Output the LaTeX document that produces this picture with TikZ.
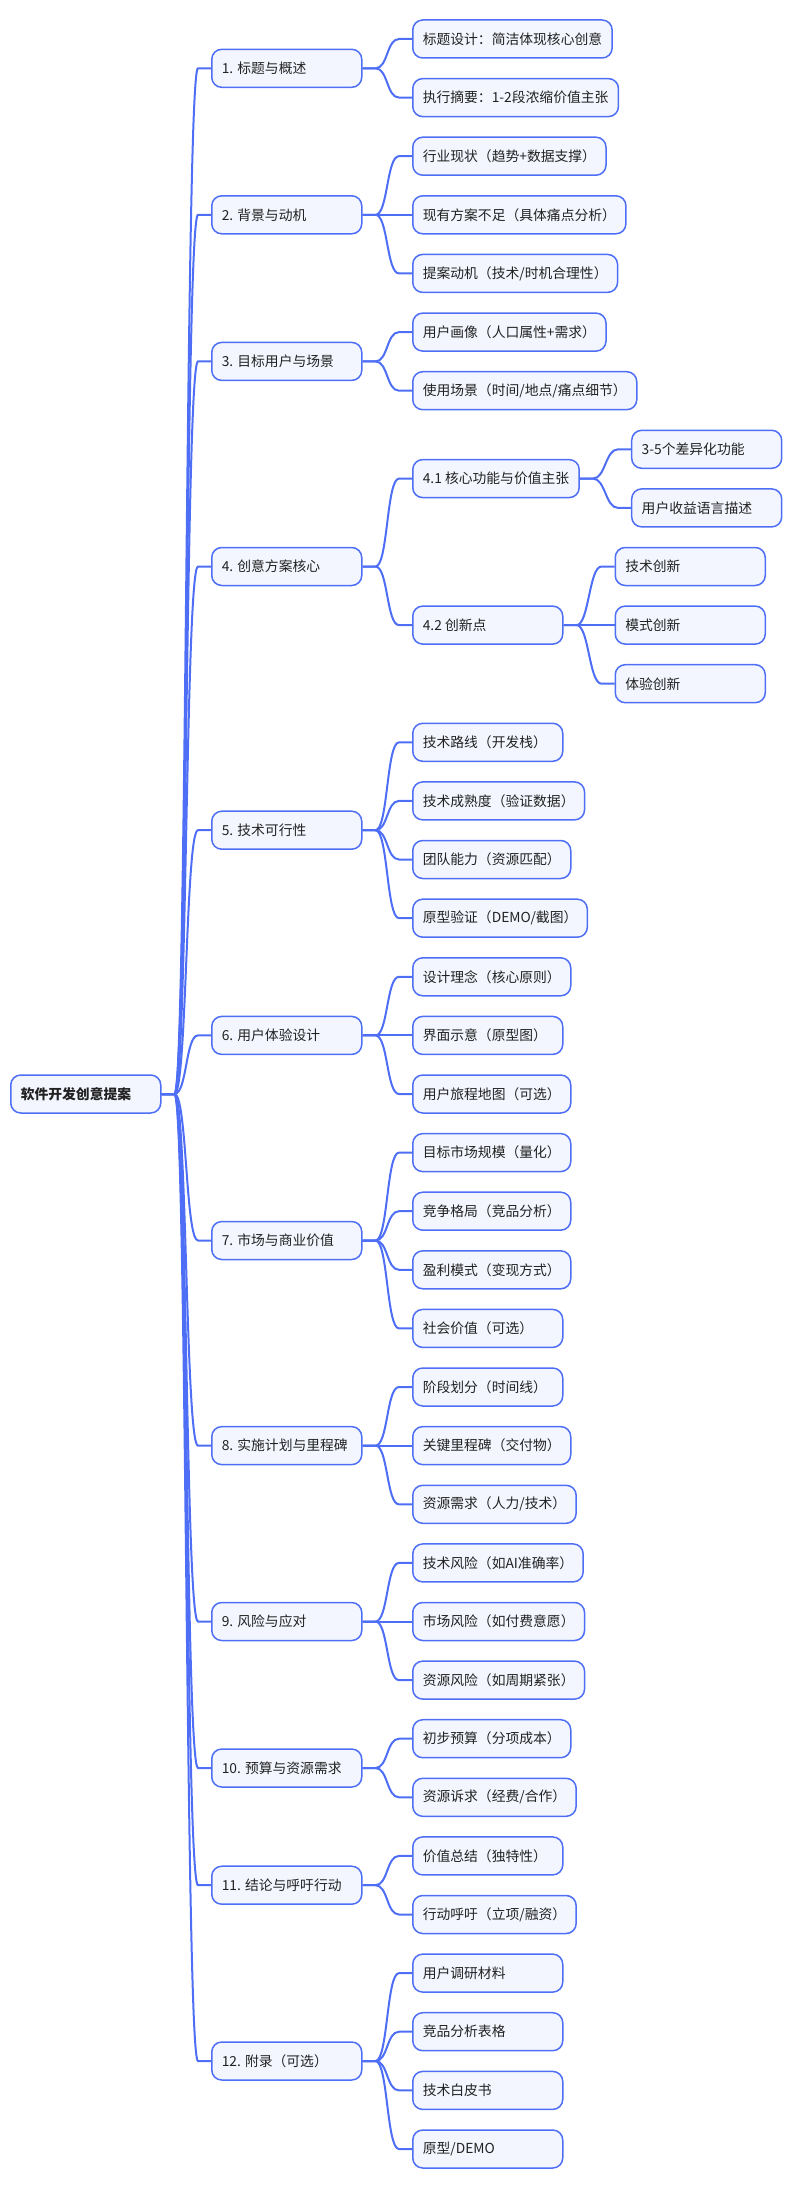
\documentclass[tikz,border=0pt]{standalone}
\usepackage{fontspec}
\setmainfont{Noto Sans CJK SC}
\usetikzlibrary{calc}
\definecolor{lineblue}{RGB}{78,110,245}
\definecolor{boxfill}{RGB}{243,246,254}
\definecolor{txt}{RGB}{34,34,34}
\newcommand\lbl[1]{\setbox0\hbox{#1}\ifdim\wd0<130pt\hbox to 130pt{\unhcopy0\hfil}\else\box0\fi}
\pgfdeclarelayer{bg}
\pgfsetlayers{bg,main}
\newcommand\conn[2]{\begin{pgfonlayer}{bg}\draw[link] (#1.east) -- ++(13,0) .. controls ($(#1.east)+(25.5pt,0)$) and ($(#2.west)+(-25.5pt,0)$) .. ($(#2.west)+(-13pt,0)$) -- (#2.west);\end{pgfonlayer}}
\tikzset{
  mm/.style={draw=lineblue, line width=1.5pt, fill=boxfill, rounded corners=10pt,
    minimum height=38pt, inner xsep=10pt, inner ysep=0pt, anchor=west, text=txt,
    font=\fontsize{13.8}{17}\selectfont},
  rootbox/.style={mm, font=\fontsize{13.8}{17}\selectfont\bfseries},
  link/.style={draw=lineblue, line width=2pt}
}
\begin{document}
\begin{tikzpicture}[x=1pt,y=-1pt]
\useasboundingbox (0,0) rectangle (790,2189);
% root
\node[rootbox] (root) at (10,1094) {\lbl{软件开发创意提案}};
% level 1
\node[mm] (n1) at (211,68.3) {\lbl{1. 标题与概述}};
\node[mm] (n2) at (211,214.8) {\lbl{2. 背景与动机}};
\node[mm] (n3) at (211,361.4) {\lbl{3. 目标用户与场景}};
\node[mm] (n4) at (211,566.5) {\lbl{4. 创意方案核心}};
\node[mm] (n5) at (211,830.2) {\lbl{5. 技术可行性}};
\node[mm] (n6) at (211,1035.4) {\lbl{6. 用户体验设计}};
\node[mm] (n7) at (211,1240.5) {\lbl{7. 市场与商业价值}};
\node[mm] (n8) at (211,1445.6) {\lbl{8. 实施计划与里程碑}};
\node[mm] (n9) at (211,1621.5) {\lbl{9. 风险与应对}};
\node[mm] (n10) at (211,1768.0) {\lbl{10. 预算与资源需求}};
\node[mm] (n11) at (211,1885.2) {\lbl{11. 结论与呼吁行动}};
\node[mm] (n12) at (211,2061.0) {\lbl{12. 附录（可选）}};
% level 2
\node[mm] (a1) at (412,39.0) {\lbl{标题设计：简洁体现核心创意}};
\node[mm] (a2) at (412,97.6) {\lbl{执行摘要：1-2段浓缩价值主张}};
\node[mm] (b1) at (412,156.2) {\lbl{行业现状（趋势+数据支撑）}};
\node[mm] (b2) at (412,214.8) {\lbl{现有方案不足（具体痛点分析）}};
\node[mm] (b3) at (412,273.4) {\lbl{提案动机（技术/时机合理性）}};
\node[mm] (c1) at (412,332.1) {\lbl{用户画像（人口属性+需求）}};
\node[mm] (c2) at (412,390.7) {\lbl{使用场景（时间/地点/痛点细节）}};
\node[mm] (n41) at (412,478.6) {\lbl{4.1 核心功能与价值主张}};
\node[mm] (n42) at (412,625.1) {\lbl{4.2 创新点}};
\node[mm] (f1) at (412,742.3) {\lbl{技术路线（开发栈）}};
\node[mm] (f2) at (412,800.9) {\lbl{技术成熟度（验证数据）}};
\node[mm] (f3) at (412,859.5) {\lbl{团队能力（资源匹配）}};
\node[mm] (f4) at (412,918.2) {\lbl{原型验证（DEMO/截图）}};
\node[mm] (g1) at (412,976.8) {\lbl{设计理念（核心原则）}};
\node[mm] (g2) at (412,1035.4) {\lbl{界面示意（原型图）}};
\node[mm] (g3) at (412,1094.0) {\lbl{用户旅程地图（可选）}};
\node[mm] (h1) at (412,1152.6) {\lbl{目标市场规模（量化）}};
\node[mm] (h2) at (412,1211.2) {\lbl{竞争格局（竞品分析）}};
\node[mm] (h3) at (412,1269.8) {\lbl{盈利模式（变现方式）}};
\node[mm] (h4) at (412,1328.4) {\lbl{社会价值（可选）}};
\node[mm] (i1) at (412,1387.0) {\lbl{阶段划分（时间线）}};
\node[mm] (i2) at (412,1445.6) {\lbl{关键里程碑（交付物）}};
\node[mm] (i3) at (412,1504.3) {\lbl{资源需求（人力/技术）}};
\node[mm] (j1) at (412,1562.9) {\lbl{技术风险（如AI准确率）}};
\node[mm] (j2) at (412,1621.5) {\lbl{市场风险（如付费意愿）}};
\node[mm] (j3) at (412,1680.1) {\lbl{资源风险（如周期紧张）}};
\node[mm] (k1) at (412,1738.7) {\lbl{初步预算（分项成本）}};
\node[mm] (k2) at (412,1797.3) {\lbl{资源诉求（经费/合作）}};
\node[mm] (l1) at (412,1855.9) {\lbl{价值总结（独特性）}};
\node[mm] (l2) at (412,1914.5) {\lbl{行动呼吁（立项/融资）}};
\node[mm] (m1) at (412,1973.1) {\lbl{用户调研材料}};
\node[mm] (m2) at (412,2031.7) {\lbl{竞品分析表格}};
\node[mm] (m3) at (412,2090.4) {\lbl{技术白皮书}};
\node[mm] (m4) at (412,2149.0) {\lbl{原型/DEMO}};
% level 3
\path (n41.east) ++(51,0) coordinate (c41);
\path (n42.east) ++(51,0) coordinate (c42);
\node[mm] (d1) at (c41 |- 0,449.3) {\lbl{3-5个差异化功能}};
\node[mm] (d2) at (c41 |- 0,507.9) {\lbl{用户收益语言描述}};
\node[mm] (e1) at (c42 |- 0,566.5) {\lbl{技术创新}};
\node[mm] (e2) at (c42 |- 0,625.1) {\lbl{模式创新}};
\node[mm] (e3) at (c42 |- 0,683.7) {\lbl{体验创新}};
% connectors
\foreach \n in {n1,n2,n3,n4,n5,n6,n7,n8,n9,n10,n11,n12}{\conn{root}{\n}}
\conn{n1}{a1}\conn{n1}{a2}
\conn{n2}{b1}\conn{n2}{b2}\conn{n2}{b3}
\conn{n3}{c1}\conn{n3}{c2}
\conn{n4}{n41}\conn{n4}{n42}
\conn{n41}{d1}\conn{n41}{d2}
\conn{n42}{e1}\conn{n42}{e2}\conn{n42}{e3}
\conn{n5}{f1}\conn{n5}{f2}\conn{n5}{f3}\conn{n5}{f4}
\conn{n6}{g1}\conn{n6}{g2}\conn{n6}{g3}
\conn{n7}{h1}\conn{n7}{h2}\conn{n7}{h3}\conn{n7}{h4}
\conn{n8}{i1}\conn{n8}{i2}\conn{n8}{i3}
\conn{n9}{j1}\conn{n9}{j2}\conn{n9}{j3}
\conn{n10}{k1}\conn{n10}{k2}
\conn{n11}{l1}\conn{n11}{l2}
\conn{n12}{m1}\conn{n12}{m2}\conn{n12}{m3}\conn{n12}{m4}
\end{tikzpicture}
\end{document}
